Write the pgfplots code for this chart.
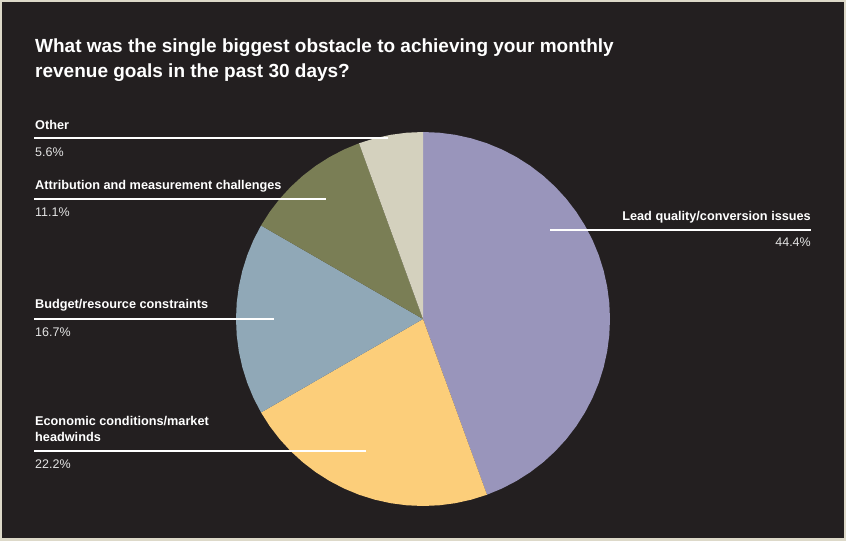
\documentclass[border=0pt]{standalone}
\usepackage{pgfplots}
\pgfplotsset{compat=1.18}
\usepgfplotslibrary{polar}
\usepackage{fontspec}
\setmainfont{Liberation Sans}

\definecolor{bgdark}{HTML}{231F20}
\definecolor{framec}{HTML}{DDD9C9}
\definecolor{leadc}{HTML}{9995BB}
\definecolor{econc}{HTML}{FCCE7A}
\definecolor{budgc}{HTML}{90A8B7}
\definecolor{attrc}{HTML}{7A7E55}
\definecolor{otherc}{HTML}{D4D1BE}
\definecolor{pctc}{HTML}{E4E4E4}

\begin{document}
\begin{tikzpicture}[x=1pt,y=1pt]
\fill[framec] (0,0) rectangle (846,541);
\fill[bgdark] (2,3) rectangle (844,539);

% 18 answers: 8, 4, 3, 2, 1 -> 160, 80, 60, 40, 20 degrees, clockwise from the top
\begin{polaraxis}[
    at={(423pt,222pt)}, anchor=origin,
    hide axis, scale only axis,
    width=374pt, height=374pt,
    ymin=0, ymax=1, clip=false,
  ]
  % Lead quality/conversion issues 44.4%
  \addplot[draw=none, fill=leadc] coordinates {
    (0,0) (90,1) (85,1) (80,1) (75,1) (70,1) (65,1) (60,1) (55,1) (50,1)
    (45,1) (40,1) (35,1) (30,1) (25,1) (20,1) (15,1) (10,1) (5,1) (0,1)
    (-5,1) (-10,1) (-15,1) (-20,1) (-25,1) (-30,1) (-35,1) (-40,1)
    (-45,1) (-50,1) (-55,1) (-60,1) (-65,1) (-70,1)
  } -- cycle;
  % Economic conditions/market headwinds 22.2%
  \addplot[draw=none, fill=econc] coordinates {
    (0,0) (-70,1) (-75,1) (-80,1) (-85,1) (-90,1) (-95,1) (-100,1)
    (-105,1) (-110,1) (-115,1) (-120,1) (-125,1) (-130,1) (-135,1)
    (-140,1) (-145,1) (-150,1)
  } -- cycle;
  % Budget/resource constraints 16.7%
  \addplot[draw=none, fill=budgc] coordinates {
    (0,0) (-150,1) (-155,1) (-160,1) (-165,1) (-170,1) (-175,1) (-180,1)
    (-185,1) (-190,1) (-195,1) (-200,1) (-205,1) (-210,1)
  } -- cycle;
  % Attribution and measurement challenges 11.1%
  \addplot[draw=none, fill=attrc] coordinates {
    (0,0) (-210,1) (-215,1) (-220,1) (-225,1) (-230,1) (-235,1) (-240,1)
    (-245,1) (-250,1)
  } -- cycle;
  % Other 5.6%
  \addplot[draw=none, fill=otherc] coordinates {
    (0,0) (-250,1) (-255,1) (-260,1) (-265,1) (-270,1)
  } -- cycle;
\end{polaraxis}

% title
\begin{scope}[every node/.style={inner sep=0pt, text=white, font=\fontsize{19}{23}\selectfont\bfseries}]
  \node[anchor=base west] at (35,488) {What was the single biggest obstacle to achieving your monthly};
  \node[anchor=base west] at (35,463) {revenue goals in the past 30 days?};
\end{scope}

% leader lines and labels
\begin{scope}[every node/.style={inner sep=0pt},
    lab/.style={text=white, font=\fontsize{12.7}{15.5}\selectfont\bfseries},
    pct/.style={text=pctc, font=\fontsize{12.5}{15.5}\selectfont}]
  \draw[white, line width=2pt] (34,403) -- (388,403);
  \node[lab, anchor=base west] at (35,411) {Other};
  \node[pct, anchor=base west] at (35,384) {5.6\%};

  \draw[white, line width=2pt] (34,342) -- (326,342);
  \node[lab, anchor=base west] at (35,351) {Attribution and measurement challenges};
  \node[pct, anchor=base west] at (35,324) {11.1\%};

  \draw[white, line width=2pt] (34,222) -- (274,222);
  \node[lab, anchor=base west] at (35,232) {Budget/resource constraints};
  \node[pct, anchor=base west] at (35,204) {16.7\%};

  \draw[white, line width=2pt] (34,90) -- (366,90);
  \node[lab, anchor=base west] at (35,115) {Economic conditions/market};
  \node[lab, anchor=base west] at (35,99) {headwinds};
  \node[pct, anchor=base west] at (35,72) {22.2\%};

  \draw[white, line width=2pt] (550,311) -- (811,311);
  \node[lab, anchor=base east] at (811,320) {Lead quality/conversion issues};
  \node[pct, anchor=base east] at (811,294) {44.4\%};
\end{scope}
\end{tikzpicture}
\end{document}
